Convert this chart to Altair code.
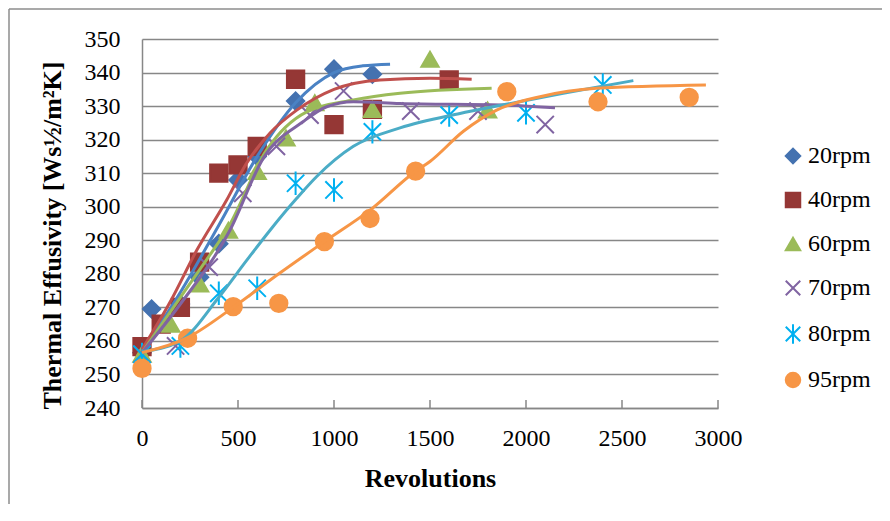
import altair as alt
import pandas as pd

series_names = ["20rpm", "40rpm", "60rpm", "70rpm", "80rpm", "95rpm"]

# measured points
x_20 = [0, 50, 200, 300, 400, 500, 600, 800, 1000, 1200]
y_20 = [256.5, 269.5, 271, 279, 289, 308, 315, 331.5, 341, 339.5]
x_40 = [0, 100, 200, 300, 400, 500, 600, 800, 1000, 1200, 1600]
y_40 = [258.3, 265, 270, 283.5, 310, 312.5, 318, 338, 324.5, 329, 337.8]
x_60 = [0, 150, 300, 450, 600, 750, 900, 1200, 1500, 1800]
y_60 = [256, 265, 277, 293, 310.5, 320.5, 331, 329, 344, 328.8]
x_70 = [0, 175, 350, 525, 700, 875, 1050, 1400, 1750, 2100]
y_70 = [256, 258.5, 282, 304, 318, 327.3, 334.5, 328.5, 328.5, 324.5]
x_80 = [0, 200, 400, 600, 800, 1000, 1200, 1600, 2000, 2400]
y_80 = [256, 258.5, 274.2, 275.7, 307, 305, 322.3, 327.3, 328, 336.3]
x_95 = [0, 237.5, 475, 712.5, 950, 1187.5, 1425, 1900, 2375, 2850]
y_95 = [251.8, 260.8, 270.2, 271.2, 289.6, 296.5, 310.6, 334.3, 331.3, 332.6]

# trendlines
cx_20 = [0, 200, 400, 600, 800, 1000, 1150, 1292]
cy_20 = [257, 274.5, 294.5, 315, 331, 340, 342, 342.5]
cx_40 = [0, 150, 285, 441, 545, 667, 806, 1000, 1240, 1500, 1717]
cy_40 = [257.5, 272, 287, 302, 313, 322, 328.8, 335, 337.8, 338.3, 338]
cx_60 = [0, 200, 370, 441, 650, 858, 1101, 1344, 1821]
cy_60 = [256.5, 273, 287, 293, 317, 328.3, 331.8, 333.8, 335.3]
cx_70 = [0, 200, 458, 632, 840, 962, 1101, 1344, 1899, 2151]
cy_70 = [256.5, 271, 293, 314.5, 325.4, 329.8, 331.3, 330.8, 330.3, 329.5]
cx_80 = [0, 200, 400, 545, 667, 806, 910, 1101, 1344, 1656, 1847, 2194, 2559]
cy_80 = [256.8, 260, 273, 284, 293, 302.5, 309, 318, 323.5, 327.8, 330, 333.8, 337.6]
cx_95 = [0, 237.5, 475, 712.5, 950, 1187.5, 1425, 1500, 1674, 1847, 2073, 2368, 2937]
cy_95 = [256.5, 261, 270, 280, 289.6, 299, 310.6, 313.5, 322.5, 328.8, 332.8, 335.3, 336.3]

x_ticks = [0, 500, 1000, 1500, 2000, 2500, 3000]
y_ticks = [240, 250, 260, 270, 280, 290, 300, 310, 320, 330, 340, 350]

marker_colors = ["#4472B0", "#953735", "#9BBB59", "#8064A2", "#00B0F0", "#F79646"]
marker_fills = ["#4472B0", "#953735", "#9BBB59", "transparent", "transparent", "#F79646"]
line_colors = ["#4A82C4", "#C0504D", "#9BBB59", "#8064A2", "#4BACC6", "#F79646"]
shapes = ["diamond", "square", "triangle-up",
          "M-1,-1L1,1M-1,1L1,-1",
          "M-1,-1L1,1M-1,1L1,-1M0,-1.35L0,1.35",
          "circle"]

pts = []
for name, xs, ys in zip(series_names, [x_20, x_40, x_60, x_70, x_80, x_95],
                        [y_20, y_40, y_60, y_70, y_80, y_95]):
    for a, b in zip(xs, ys):
        pts.append({"series": name, "rev": a, "eff": b})
pts = pd.DataFrame(pts)

crv = []
for name, xs, ys in zip(series_names, [cx_20, cx_40, cx_60, cx_70, cx_80, cx_95],
                        [cy_20, cy_40, cy_60, cy_70, cy_80, cy_95]):
    for a, b in zip(xs, ys):
        crv.append({"series": name, "rev": a, "eff": b})
crv = pd.DataFrame(crv)

ticks_df = pd.DataFrame({"rev": x_ticks})

FONT = "Liberation Serif"

xscale = alt.Scale(domain=[0, 3000], nice=False, zero=False)
yscale = alt.Scale(domain=[240, 350], nice=False, zero=False)

xaxis = alt.Axis(values=x_ticks, format="d", grid=False, ticks=False, domainColor="#878787",
                 domainWidth=1.5, labelFont=FONT, labelFontSize=24, labelColor="black",
                 labelPadding=18, labelOverlap=False, labelFlush=False,
                 title="Revolutions", titleFont=FONT, titleFontSize=26,
                 titleFontWeight="bold", titleColor="black", titleX=288, titleY=70,
                 titleBaseline="middle")
yaxis = alt.Axis(values=y_ticks, format="d", grid=True, gridColor="#878787", gridWidth=1.3,
                 ticks=False, domainColor="#878787", domainWidth=1.5, labelFont=FONT,
                 labelFontSize=24, labelColor="black", labelPadding=22, labelOverlap=False,
                 labelFlush=False,
                 title="Thermal Effusivity [Ws½/m²K]", titleFont=FONT, titleFontSize=26,
                 titleFontWeight="bold", titleColor="black", titleX=-90, titleY=196,
                 titleBaseline="middle", titleAngle=-90, titleAlign="center")

X = alt.X("rev:Q", scale=xscale, axis=xaxis)
Y = alt.Y("eff:Q", scale=yscale, axis=yaxis)

points = alt.Chart(pts).mark_point(size=300, strokeWidth=2, opacity=1, filled=False).encode(
    x=X,
    y=Y,
    shape=alt.Shape("series:N", scale=alt.Scale(domain=series_names, range=shapes),
                    legend=alt.Legend(title=None)),
    stroke=alt.Stroke("series:N", scale=alt.Scale(domain=series_names, range=marker_colors),
                      legend=alt.Legend(title=None)),
    fill=alt.Fill("series:N", scale=alt.Scale(domain=series_names, range=marker_fills),
                  legend=alt.Legend(title=None)),
    order=alt.Order("series:N"),
)

lines = alt.Chart(crv).mark_line(strokeWidth=3, interpolate="monotone").encode(
    x=X,
    y=Y,
    color=alt.Color("series:N", scale=alt.Scale(domain=series_names, range=line_colors),
                    legend=None),
    detail="series:N",
)

xticks = alt.Chart(ticks_df).mark_rule(color="#878787", strokeWidth=1.5).encode(
    x=X,
    y=alt.value(361),
    y2=alt.value(369),
)

frame_left = alt.Chart(ticks_df.head(1)).mark_rule(color="#8C8C8C", strokeWidth=1.5).encode(
    x=alt.value(-133), y=alt.value(-30), y2=alt.value(470))
frame_top = alt.Chart(ticks_df.head(1)).mark_rule(color="#8C8C8C", strokeWidth=1.5).encode(
    x=alt.value(-133), x2=alt.value(740), y=alt.value(-30))

chart = alt.layer(frame_left, frame_top, points, xticks, lines).properties(
    width=576, height=369,
    padding={"left": 134, "top": 31, "right": 164, "bottom": 96},
    autosize=alt.AutoSizeParams(type="none"),
    background="white",
).configure_view(stroke=None).configure_legend(
    orient="none", legendX=639, legendY=105, padding=0, labelFont=FONT,
    labelFontSize=24, labelColor="black", rowPadding=20, symbolSize=210,
    symbolStrokeWidth=2, labelOffset=3, symbolOffset=0,
)

chart.save("out.html", embed_options={"renderer": "svg", "actions": False})
